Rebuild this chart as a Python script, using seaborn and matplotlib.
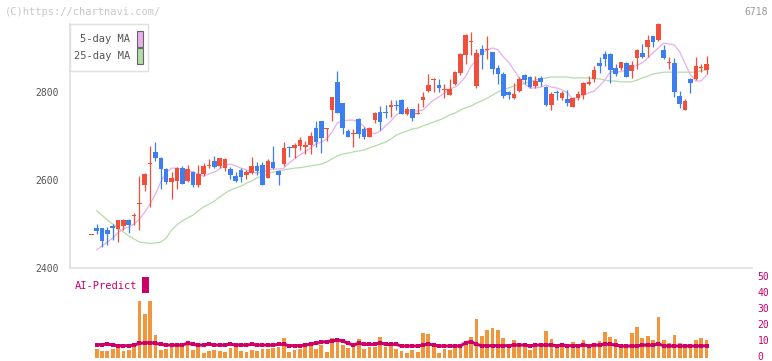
import numpy as np
import pandas as pd
import matplotlib
matplotlib.use("Agg")
import matplotlib.pyplot as plt
import seaborn as sns
from matplotlib.patches import Rectangle
from matplotlib.transforms import ScaledTranslation, blended_transform_factory

sns.set_theme(style="white")
plt.rcParams["font.family"] = ["DejaVu Sans Mono", "DejaVu Sans"]

# ── data ─────────────────────────────────────────────────────────────────────

opens = [2474, 2491, 2491, 2486, 2496, 2489, 2495, 2509, 2518, 2545,
         2589, 2637, 2664, 2650, 2625, 2595, 2598, 2627, 2598, 2618,
         2589, 2614, 2631, 2643, 2632, 2627, 2625, 2609, 2623, 2611,
         2616, 2632, 2634, 2604, 2641, 2620, 2636, 2675, 2673, 2677,
         2675, 2680, 2718, 2733, 2716, 2759, 2823, 2774, 2711, 2704,
         2738, 2717, 2697, 2736, 2755, 2754, 2765, 2770, 2782, 2751,
         2761, 2749, 2782, 2802, 2828, 2816, 2805, 2793, 2818, 2844,
         2883, 2914, 2814, 2898, 2896, 2890, 2854, 2842, 2801, 2787,
         2802, 2839, 2835, 2814, 2831, 2812, 2771, 2801, 2787, 2784,
         2767, 2786, 2793, 2818, 2830, 2867, 2886, 2886, 2854, 2855,
         2867, 2848, 2878, 2889, 2903, 2927, 2918, 2895, 2865, 2867,
         2791, 2760, 2830, 2830, 2855, 2850]
highs = [2476, 2500, 2491, 2493, 2500, 2509, 2511, 2511, 2525, 2609,
         2616, 2677, 2686, 2652, 2627, 2618, 2629, 2632, 2634, 2620,
         2634, 2639, 2648, 2654, 2650, 2650, 2629, 2618, 2627, 2623,
         2652, 2641, 2641, 2648, 2677, 2623, 2686, 2677, 2684, 2698,
         2689, 2709, 2733, 2733, 2718, 2789, 2848, 2775, 2716, 2716,
         2740, 2720, 2720, 2755, 2768, 2770, 2782, 2782, 2784, 2766,
         2761, 2775, 2800, 2841, 2832, 2830, 2818, 2830, 2848, 2889,
         2932, 2936, 2898, 2907, 2927, 2892, 2861, 2845, 2803, 2820,
         2833, 2841, 2837, 2837, 2836, 2814, 2799, 2805, 2803, 2805,
         2789, 2803, 2823, 2836, 2858, 2880, 2893, 2888, 2863, 2868,
         2869, 2871, 2897, 2908, 2930, 2928, 2956, 2907, 2879, 2877,
         2802, 2783, 2831, 2879, 2864, 2882]
lows = [2474, 2477, 2447, 2452, 2464, 2459, 2486, 2479, 2498, 2486,
        2575, 2539, 2643, 2580, 2591, 2557, 2580, 2591, 2595, 2584,
        2584, 2609, 2627, 2627, 2627, 2620, 2602, 2595, 2595, 2602,
        2614, 2611, 2589, 2604, 2625, 2589, 2632, 2652, 2650, 2668,
        2659, 2659, 2675, 2662, 2689, 2734, 2752, 2705, 2697, 2676,
        2695, 2693, 2697, 2730, 2714, 2741, 2743, 2759, 2749, 2748,
        2733, 2749, 2767, 2800, 2801, 2800, 2786, 2793, 2816, 2839,
        2864, 2884, 2809, 2852, 2875, 2841, 2818, 2787, 2784, 2784,
        2799, 2818, 2808, 2810, 2814, 2768, 2759, 2782, 2782, 2768,
        2766, 2782, 2784, 2816, 2823, 2843, 2858, 2820, 2837, 2850,
        2833, 2832, 2852, 2878, 2880, 2902, 2916, 2876, 2852, 2788,
        2764, 2759, 2798, 2828, 2845, 2840]
closes = [2476, 2484, 2461, 2477, 2491, 2509, 2509, 2498, 2520, 2547,
          2614, 2639, 2650, 2625, 2595, 2604, 2627, 2591, 2625, 2589,
          2614, 2632, 2633, 2629, 2650, 2648, 2611, 2598, 2607, 2618,
          2632, 2620, 2589, 2643, 2627, 2611, 2673, 2673, 2680, 2691,
          2680, 2700, 2687, 2696, 2718, 2789, 2753, 2719, 2698, 2706,
          2704, 2697, 2719, 2753, 2732, 2752, 2770, 2768, 2749, 2761,
          2742, 2753, 2789, 2816, 2830, 2810, 2807, 2807, 2845, 2886,
          2930, 2917, 2889, 2884, 2898, 2852, 2841, 2791, 2793, 2796,
          2829, 2827, 2812, 2825, 2823, 2771, 2796, 2797, 2798, 2776,
          2787, 2796, 2821, 2823, 2850, 2858, 2875, 2850, 2841, 2868,
          2835, 2861, 2896, 2880, 2918, 2914, 2954, 2878, 2868, 2801,
          2772, 2780, 2820, 2859, 2857, 2864]

ma5 = [np.nan, 2441, 2450, 2459, 2468, 2480, 2489, 2493, 2500, 2511,
       2527, 2546, 2568, 2596, 2618, 2627, 2627, 2623, 2621, 2618,
       2614, 2609, 2614, 2618, 2625, 2634, 2636, 2632, 2627, 2623,
       2618, 2616, 2618, 2623, 2625, 2625, 2627, 2639, 2648, 2657,
       2664, 2673, 2682, 2686, 2693, 2709, 2730, 2734, 2736, 2736,
       2732, 2721, 2709, 2705, 2711, 2723, 2734, 2748, 2755, 2757,
       2757, 2757, 2759, 2771, 2782, 2789, 2798, 2807, 2811, 2821,
       2836, 2859, 2873, 2889, 2896, 2900, 2896, 2880, 2868, 2850,
       2832, 2818, 2809, 2809, 2811, 2816, 2811, 2809, 2805, 2798,
       2784, 2789, 2793, 2798, 2802, 2814, 2827, 2846, 2846, 2846,
       2850, 2855, 2861, 2866, 2877, 2889, 2900, 2911, 2909, 2907,
       2891, 2864, 2839, 2825, 2825, 2839]
ma25 = [np.nan, 2530, 2520, 2509, 2500, 2491, 2482, 2473, 2466, 2459,
        2457, 2456, 2457, 2459, 2468, 2486, 2498, 2507, 2514, 2520,
        2530, 2539, 2545, 2552, 2561, 2570, 2577, 2582, 2586, 2593,
        2598, 2605, 2609, 2614, 2618, 2620, 2623, 2625, 2627, 2628,
        2630, 2632, 2634, 2636, 2641, 2648, 2655, 2659, 2661, 2664,
        2666, 2668, 2673, 2677, 2682, 2686, 2693, 2702, 2707, 2711,
        2716, 2718, 2723, 2727, 2732, 2736, 2741, 2748, 2752, 2759,
        2764, 2768, 2775, 2780, 2786, 2793, 2800, 2805, 2809, 2814,
        2816, 2820, 2823, 2827, 2830, 2832, 2834, 2834, 2834, 2834,
        2832, 2832, 2832, 2832, 2830, 2830, 2827, 2825, 2825, 2823,
        2823, 2823, 2827, 2832, 2836, 2841, 2843, 2845, 2845, 2845,
        2845, 2845, 2845, 2845, 2848, 2850]

volume = [np.nan, 5.6, 4.4, 4.4, 5.6, 6.7, 4.4, 5.0, 6.7, 35.6,
          27.5, 35.6, 14.4, 5.0, 5.6, 6.7, 7.1, 6.7, 8.1, 5.0,
          6.7, 3.3, 4.6, 5.0, 4.6, 3.9, 6.5, 7.1, 4.6, 3.9,
          5.0, 4.6, 5.6, 5.6, 6.5, 6.7, 12.7, 3.9, 5.0, 5.6,
          9.6, 9.6, 5.6, 8.1, 3.9, 12.7, 10.6, 8.1, 6.5, 8.1,
          11.9, 5.8, 6.7, 6.7, 13.3, 7.1, 7.7, 5.4, 4.4, 3.3,
          5.0, 3.9, 15.8, 15.0, 6.7, 3.3, 5.6, 5.0, 6.7, 7.1,
          8.1, 13.1, 24.4, 13.8, 17.5, 18.9, 17.5, 12.7, 8.8, 11.3,
          8.1, 6.7, 5.0, 6.7, 6.7, 16.9, 11.9, 6.7, 7.1, 6.7,
          10.2, 8.8, 11.3, 6.7, 6.7, 10.8, 16.5, 13.1, 11.9, 6.7,
          6.7, 15.8, 19.2, 12.7, 13.8, 11.3, 25.4, 11.3, 9.6, 14.4,
          9.6, 6.7, 8.8, 11.3, 12.7, 11.3]
ai_predict = [np.nan, 8.1, 8.4, 8.7, 8.1, 7.7, 7.7, 7.7, 8.1, 9.2,
              9.4, 9.6, 9.2, 8.5, 8.1, 8.1, 8.1, 8.1, 9.2, 8.5,
              8.1, 8.1, 8.7, 8.1, 8.1, 8.1, 8.7, 8.1, 8.1, 8.1,
              8.5, 8.1, 8.1, 8.1, 8.1, 8.5, 8.5, 7.7, 7.7, 7.7,
              8.1, 8.7, 9.2, 9.8, 10.3, 10.6, 11.3, 10.6, 9.2, 8.1,
              9.2, 8.5, 8.5, 8.5, 9.6, 8.5, 8.5, 8.5, 7.5, 7.5,
              7.5, 7.5, 8.1, 8.7, 8.1, 7.5, 7.5, 7.5, 7.5, 7.5,
              9.6, 10.2, 8.5, 7.7, 7.7, 7.7, 7.7, 7.7, 7.7, 8.1,
              8.1, 8.1, 7.5, 8.1, 8.1, 8.1, 8.1, 7.7, 8.1, 7.7,
              7.7, 7.7, 8.1, 7.7, 8.1, 8.1, 8.7, 8.5, 8.1, 7.5,
              7.5, 7.5, 7.5, 8.1, 8.1, 8.1, 8.7, 7.7, 7.5, 7.5,
              7.5, 7.5, 7.5, 7.5, 7.5, 7.7]

date_labels = ["5/16", "5/30", "6/13", "6/27", "7/11", "7/28",
               "8/12", "8/26", "9/9", "9/25", "10/9"]
date_pos = [15, 25, 35, 45, 55, 65, 75, 85, 95, 105, 115]

price_ticks = [2400, 2600, 2800]
vol_ticks = [0, 10, 20, 30, 40, 50]

# ── style ────────────────────────────────────────────────────────────────────

RED, BLUE = "#f24e3c", "#3d7ef0"
PINK, GREEN = "#e8b0e8", "#b4dca8"
ORANGE, CRIMSON = "#f0963c", "#cc0066"
GRID = "#e0e0e0"

W, H = 772, 361
fig = plt.figure(figsize=(W / 100, H / 100), dpi=100)


def fx(px):
    return px / W


def fy(py):
    return 1 - py / H


df = pd.DataFrame({"o": opens, "h": highs, "l": lows, "c": closes,
                   "ma5": ma5, "ma25": ma25, "vol": volume, "ai": ai_predict})
df["i"] = np.arange(len(df))
x_lim = (-3.98, 123.5)

# ── price panel ──────────────────────────────────────────────────────────────

ax = fig.add_axes([fx(70), fy(268), fx(752) - fx(70), fy(20) - fy(268)])
ax.set_xlim(*x_lim)
ax.set_ylim(2400, 2963.6)

sns.lineplot(data=df, x="i", y="ma25", ax=ax, color=GREEN, lw=0.9, zorder=1)
sns.lineplot(data=df, x="i", y="ma5", ax=ax, color=PINK, lw=0.9, zorder=1)

up = df["c"] >= df["o"]
cols = np.where(up, RED, BLUE)
ax.vlines(df["i"], df["l"], df["h"], colors=cols, lw=0.9, zorder=2)
body_h = np.maximum((df["c"] - df["o"]).abs(), 2.5)
body_b = np.minimum(df["o"], df["c"])
ax.bar(df["i"], body_h, bottom=body_b, width=0.86, color=cols, lw=0, zorder=3)

for s in ["top", "right"]:
    ax.spines[s].set_visible(False)
ax.spines["left"].set_color(GRID)
ax.spines["bottom"].set_color(GRID)
ax.spines["left"].set_bounds(2400, 2954)
ax.set_yticks(price_ticks)
ax.set_yticklabels([str(t) for t in price_ticks])
ax.tick_params(axis="y", direction="inout", length=8, color=GRID,
               labelcolor="#555555", labelsize=7, pad=4)
ax.set_xticks(np.linspace(*x_lim, 12)[1:])
ax.set_xticklabels([])
ax.tick_params(axis="x", direction="inout", length=8, color=GRID)
ax.set_xlabel("")
ax.set_ylabel("")

# ── volume panel ─────────────────────────────────────────────────────────────

vax = fig.add_axes([fx(70), fy(358), fx(752) - fx(70), fy(278) - fy(358)])
vax.set_xlim(*x_lim)
vax.set_ylim(0, 50)
vax.bar(df["i"], df["vol"], width=0.7, color=ORANGE, lw=0, zorder=1)
sns.lineplot(data=df, x="i", y="ai", ax=vax, color=CRIMSON, lw=2.2,
             marker="s", markersize=3, markeredgewidth=0, zorder=2)
for s in vax.spines.values():
    s.set_visible(False)
vax.set_xticks([])
vax.yaxis.tick_right()
vax.set_yticks(vol_ticks)
vax.set_yticklabels([str(t) for t in vol_ticks])
vax.tick_params(axis="y", length=0, labelcolor=CRIMSON, labelsize=7, pad=4)
lift = ScaledTranslation(0, 2 / 100, fig.dpi_scale_trans)
for lbl in vax.get_yticklabels():
    lbl.set_transform(lbl.get_transform() + lift)
vax.set_xlabel("")
vax.set_ylabel("")

# ── texts, legend ────────────────────────────────────────────────────────────

date_tr = blended_transform_factory(ax.transData, fig.transFigure)
for lab, pos in zip(date_labels, date_pos):
    ax.text(pos, fy(285), lab, transform=date_tr, ha="center", va="center",
            fontsize=7, color="#555555")

fig.text(fx(5), fy(12), "(C)https://chartnavi.com/", fontsize=7.5,
         color="#c8c8c8", ha="left", va="center")
fig.text(fx(768), fy(12), "6718", fontsize=7, color="#999999",
         ha="right", va="center")

fig.text(fx(75), fy(286), "AI-Predict", fontsize=7.5, color=CRIMSON,
         ha="left", va="center")
fig.patches.append(Rectangle((fx(142), fy(293)), fx(7), fy(277) - fy(293),
                             transform=fig.transFigure, fc=CRIMSON, ec="none"))

fig.patches.append(Rectangle((fx(70), fy(71)), fx(78), fy(24) - fy(71),
                             transform=fig.transFigure, fc="white", ec=GRID,
                             lw=1, zorder=5))
for lab, col, yc in [("5-day MA", PINK, 39), ("25-day MA", GREEN, 56)]:
    fig.text(fx(130), fy(yc), lab, fontsize=7.5, color="#555555",
             ha="right", va="center", zorder=6)
    fig.patches.append(Rectangle((fx(137), fy(yc + 7.5)), fx(5.5), fy(yc - 7.5) - fy(yc + 7.5),
                                 transform=fig.transFigure, fc=col, ec="#666666",
                                 lw=0.8, zorder=6))

fig.savefig("out.png", dpi=100)
